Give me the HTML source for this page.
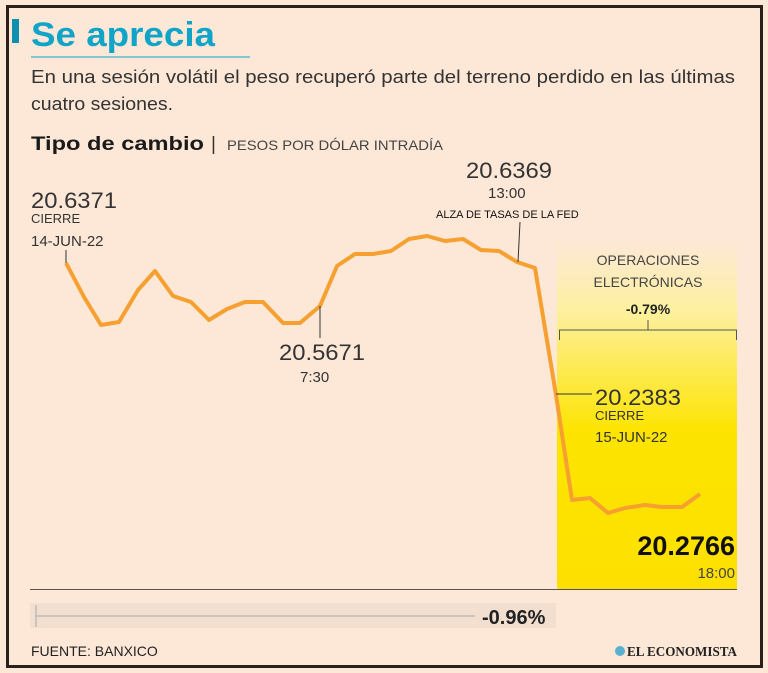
<!DOCTYPE html>
<html><head><meta charset="utf-8"><style>
body{margin:0;width:768px;height:673px;background:#fde8d7;font-family:"Liberation Sans",sans-serif;overflow:hidden}
</style></head><body>
<svg width="768" height="673" xmlns="http://www.w3.org/2000/svg" style="position:absolute;left:0;top:0">
<defs><linearGradient id="g" x1="0" y1="0" x2="0" y2="1">
<stop offset="0" stop-color="#fde8d7"/><stop offset="0.2" stop-color="#fdf0a0"/><stop offset="0.55" stop-color="#fde400"/><stop offset="1" stop-color="#fde000"/></linearGradient></defs>
<rect x="0" y="0" width="768" height="673" fill="#fde8d7"/>
<rect x="7.5" y="6.5" width="754" height="660" fill="none" stroke="#2a201c" stroke-width="3"/>
<rect x="12" y="19" width="7" height="24" fill="#0e8fb0"/>
<text x="31" y="46" font-size="34" font-weight="bold" fill="#10a4c8" textLength="184" lengthAdjust="spacingAndGlyphs">Se aprecia</text>
<line x1="31" y1="57" x2="250" y2="57" stroke="#10a4c8" stroke-width="1"/>
<text x="31" y="83" font-size="18" fill="#333" textLength="704" lengthAdjust="spacingAndGlyphs">En una sesión volátil el peso recuperó parte del terreno perdido en las últimas</text>
<text x="31" y="110" font-size="18" fill="#333" textLength="142" lengthAdjust="spacingAndGlyphs">cuatro sesiones.</text>
<text x="31" y="150" font-size="19" font-weight="bold" fill="#1a1a1a" textLength="173" lengthAdjust="spacingAndGlyphs">Tipo de cambio</text>
<text x="211" y="150" font-size="19" fill="#333">|</text>
<text x="227" y="150" font-size="14" fill="#444" textLength="216" lengthAdjust="spacingAndGlyphs">PESOS POR DÓLAR INTRADÍA</text>
<rect x="557" y="240" width="180" height="350" fill="url(#g)"/>
<line x1="30" y1="589.5" x2="737" y2="589.5" stroke="#555" stroke-width="1"/>
<polyline fill="none" stroke="#f5a030" stroke-width="4" stroke-linejoin="round" points="66,263 84,297 101,325 119,322 138,290 155,271 173,296 191,302 209,320 227,309 245,302 263,302 283,323 300,323 320,306 337,266 355,254 373,254 391,251 409,239 427,236 445,241 463,239 481,250 499,251 517,262 535,268 556,395 572,500 590,498 608,513 625,508 645,505 662,507 682,507 700,494"/>
<g fill="#333" font-size="22"><text x="31" y="208" textLength="86" lengthAdjust="spacingAndGlyphs">20.6371</text><text x="466" y="178" textLength="86" lengthAdjust="spacingAndGlyphs">20.6369</text><text x="279" y="360" textLength="86" lengthAdjust="spacingAndGlyphs">20.5671</text><text x="595" y="405" textLength="86" lengthAdjust="spacingAndGlyphs">20.2383</text></g>
<g fill="#333" font-size="13"><text x="31" y="223">CIERRE</text><text x="595" y="420">CIERRE</text><text x="488" y="198" font-size="15">13:00</text><text x="300" y="382" font-size="15">7:30</text><text x="31" y="246" font-size="15">14-JUN-22</text><text x="595" y="442" font-size="15">15-JUN-22</text></g>
<text x="436" y="218" font-size="11" fill="#111">ALZA DE TASAS DE LA FED</text>
<line x1="66" y1="250" x2="66" y2="263" stroke="#333"/><line x1="520" y1="222" x2="518" y2="262" stroke="#333"/><line x1="320" y1="306" x2="320" y2="338" stroke="#333"/><line x1="556" y1="394" x2="592" y2="394" stroke="#333"/>
<g fill="#444" font-size="14" text-anchor="middle"><text x="648" y="265">OPERACIONES</text><text x="648" y="287">ELECTRÓNICAS</text></g>
<text x="648" y="314" font-size="14" font-weight="bold" fill="#222" text-anchor="middle">-0.79%</text>
<path d="M559.5,340 V330 H736.5 V340 M648,320 V330" fill="none" stroke="#555"/>
<text x="735" y="555" font-size="27" font-weight="bold" fill="#111" text-anchor="end">20.2766</text>
<text x="735" y="578" font-size="15" fill="#444" text-anchor="end">18:00</text>
<rect x="30" y="603" width="526" height="25" fill="#f2dfd0"/>
<line x1="36" y1="605" x2="36" y2="627" stroke="#aaa"/>
<line x1="36" y1="616" x2="475" y2="616" stroke="#aaa"/>
<text x="482" y="624" font-size="20" font-weight="bold" fill="#222">-0.96%</text>
<text x="31" y="656" font-size="14" fill="#222">FUENTE: BANXICO</text>
<circle cx="620" cy="651" r="5" fill="#5ab0d0"/>
<text x="737" y="656" font-size="14" font-weight="bold" fill="#222" text-anchor="end" font-family="Liberation Serif,serif" textLength="110" lengthAdjust="spacingAndGlyphs">EL ECONOMISTA</text>
</svg>
</body></html>
